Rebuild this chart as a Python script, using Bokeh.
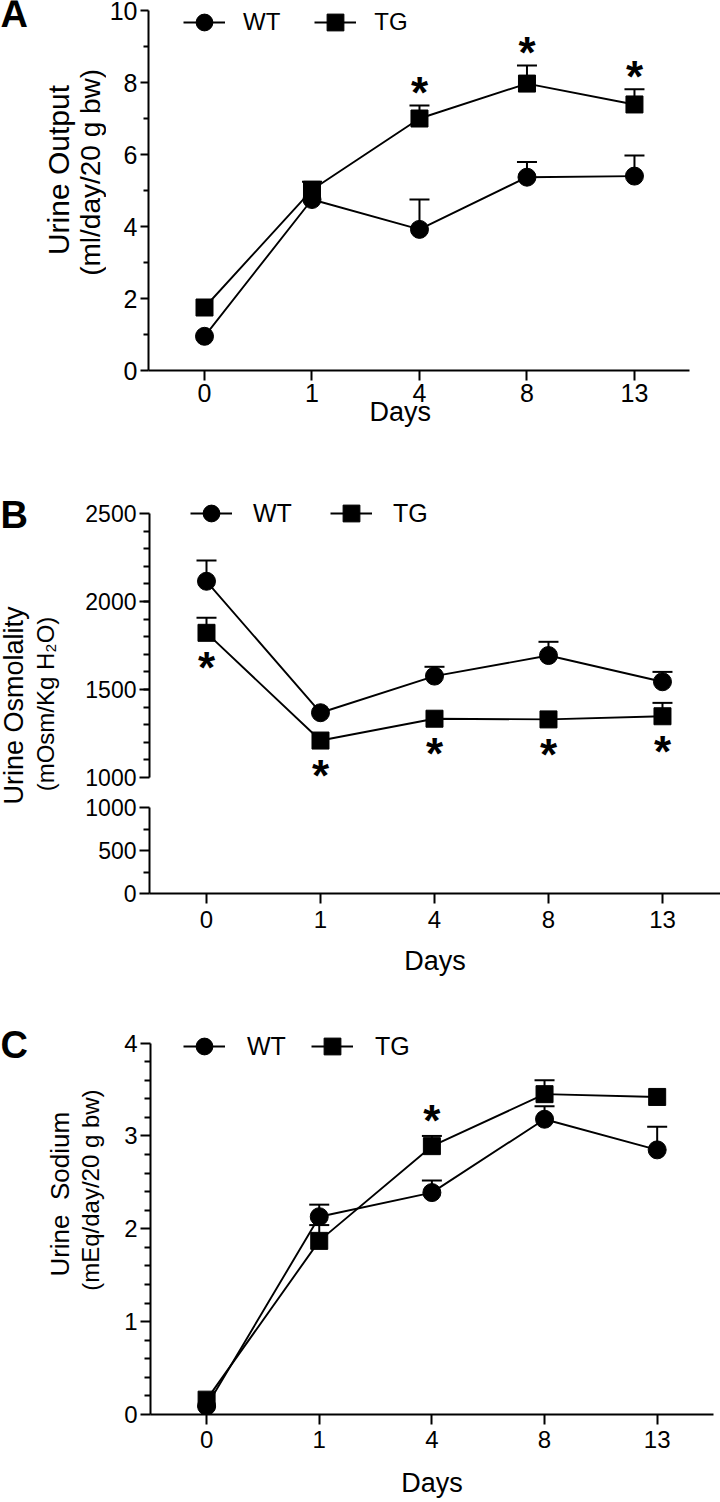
import math
from bokeh.plotting import figure
from bokeh.models import (Range1d, FixedTicker, Whisker, TeeHead, ColumnDataSource,
                          Legend, LegendItem, Label)
from bokeh.layouts import column, row
from bokeh.core.properties import value
from bokeh.embed import file_html
from bokeh.resources import INLINE

FONT = "Liberation Sans"
NB = "\u00a0"

# ---------------- data ----------------
days = ["0", "1", "4", "8", "13"]
xpos = list(range(len(days)))

wt_out = [0.95, 4.75, 3.92, 5.37, 5.40]
wt_out_sem = [0.0, 0.0, 0.83, 0.42, 0.57]
tg_out = [1.75, 5.02, 7.00, 7.97, 7.39]
tg_out_sem = [0.0, 0.22, 0.36, 0.50, 0.42]
sig_out = [False, False, True, True, True]

wt_osm = [2115, 1368, 1576, 1693, 1544]
wt_osm_sem = [118, 0, 53, 78, 56]
tg_osm = [1822, 1210, 1334, 1330, 1348]
tg_osm_sem = [85, 0, 0, 0, 76]
sig_osm = [True, True, True, True, True]

wt_na = [0.09, 2.13, 2.39, 3.18, 2.85]
wt_na_sem = [0.0, 0.13, 0.13, 0.14, 0.25]
tg_na = [0.16, 1.87, 2.89, 3.45, 3.42]
tg_na_sem = [0.0, 0.17, 0.11, 0.15, 0.0]
sig_na = [False, False, True, False, False]

PAGE_W = 720


def make_fig(w, h, xr, yr, mb_left, mb_right, mb_top, mb_bottom, show_x=True):
    p = figure(width=w, height=h, x_range=Range1d(*xr), y_range=Range1d(*yr),
               output_backend="svg", toolbar_location=None,
               min_border_left=mb_left, min_border_right=mb_right,
               min_border_top=mb_top, min_border_bottom=mb_bottom,
               x_axis_location="below" if show_x else None)
    p.outline_line_color = None
    p.grid.visible = False
    p.background_fill_color = "white"
    p.border_fill_color = "white"
    return p


def make_side(w, h):
    p = figure(width=w, height=h, x_range=Range1d(0, w), y_range=Range1d(h, 0),
               output_backend="svg", toolbar_location=None, min_border=0,
               min_border_left=0, min_border_right=0, min_border_top=0, min_border_bottom=0,
               x_axis_location=None, y_axis_location=None)
    p.outline_line_color = None
    p.grid.visible = False
    p.background_fill_color = "white"
    p.border_fill_color = "white"
    return p


def style_y(p, major, minor, bounds, fs="24px", tout=10, mout=6):
    ya = p.yaxis[0]
    ya.ticker = FixedTicker(ticks=major, minor_ticks=minor)
    ya.bounds = bounds
    ya.axis_line_width = 2
    ya.axis_line_color = "black"
    ya.major_tick_line_width = 2
    ya.minor_tick_line_width = 2
    ya.major_tick_line_color = "black"
    ya.minor_tick_line_color = "black"
    ya.major_tick_out = tout
    ya.major_tick_in = 0
    ya.minor_tick_out = mout
    ya.minor_tick_in = 0
    ya.major_label_text_font = FONT
    ya.major_label_text_font_size = fs
    ya.major_label_text_color = "black"
    ya.major_label_standoff = 3


def style_x(p, standoff, label_standoff, fs="24px", label="Days"):
    xa = p.xaxis[0]
    xa.ticker = FixedTicker(ticks=xpos)
    xa.major_label_overrides = {i: d for i, d in zip(xpos, days)}
    xa.axis_line_width = 2
    xa.axis_line_color = "black"
    xa.major_tick_line_width = 2
    xa.major_tick_line_color = "black"
    xa.major_tick_out = 10
    xa.major_tick_in = 0
    xa.minor_tick_out = 0
    xa.minor_tick_in = 0
    xa.major_label_text_font = FONT
    xa.major_label_text_font_size = fs
    xa.major_label_text_color = "black"
    xa.major_label_standoff = standoff
    xa.axis_label = label
    xa.axis_label_text_font = FONT
    xa.axis_label_text_font_size = "27px"
    xa.axis_label_text_font_style = "normal"
    xa.axis_label_text_color = "black"
    xa.axis_label_standoff = label_standoff


def add_series(p, wt, wt_sem, tg, tg_sem):
    for vals, sems in ((wt, wt_sem), (tg, tg_sem)):
        xs = [x for x, s in zip(xpos, sems) if s > 0]
        lo = [v for v, s in zip(vals, sems) if s > 0]
        hi = [v + s for v, s in zip(vals, sems) if s > 0]
        src = ColumnDataSource(dict(x=xs, lo=lo, hi=hi))
        wk = Whisker(base="x", lower="lo", upper="hi", source=src,
                     line_width=2, line_color="black",
                     upper_head=TeeHead(size=20, line_width=2, line_color="black"),
                     lower_head=None, level="underlay")
        p.add_layout(wk)
    lw = p.line(xpos, wt, line_width=1.9, line_color="black")
    sw = p.scatter(xpos, wt, marker="circle", size=18, fill_color="black", line_color="black")
    lt = p.line(xpos, tg, line_width=1.9, line_color="black")
    st = p.scatter(xpos, tg, marker="square", size=17, fill_color="black", line_color="black")
    return (lw, sw), (lt, st)


def add_legend(p, wt_r, tg_r, loc, standoff, spacing, fs="24px"):
    leg = Legend(items=[LegendItem(label="WT", renderers=list(wt_r)),
                        LegendItem(label="TG", renderers=list(tg_r))],
                 orientation="horizontal", location=loc,
                 glyph_width=42, glyph_height=46, label_standoff=standoff,
                 spacing=spacing, padding=0, margin=0,
                 border_line_alpha=0, background_fill_alpha=0,
                 label_text_font=FONT, label_text_font_size=fs,
                 label_text_color="black")
    p.add_layout(leg)


def add_stars(p, vals, sems, sig, above, offset):
    xs = [x for x, s in zip(xpos, sig) if s]
    ys = [v + (e if above else 0) for v, e, s in zip(vals, sems, sig) if s]
    p.text(x=xs, y=ys, text=["*"] * len(xs), text_font=value(FONT),
           text_font_style="bold", text_font_size="44px", text_align="center",
           text_baseline="middle", y_offset=offset, text_color="black")


def add_text(p, x, y, text, fs, angle=0.0, bold=False, align="center"):
    p.add_layout(Label(x=x, y=y, text=text, angle=angle,
                       text_align=align, text_baseline="middle",
                       text_font=FONT, text_font_size=fs,
                       text_font_style="bold" if bold else "normal",
                       text_color="black"))


UP = math.pi / 2

# ---------------- panel A ----------------
HA = 478
sA = make_side(106, HA)
add_text(sA, 0, 17, "A", "38px", bold=True, align="left")
add_text(sA, 58, 219, "Urine Output", "30px", angle=UP)
add_text(sA, 89.5, 222, "(ml/day/20 g bw)", "28px", angle=UP)

pA = make_fig(PAGE_W - 106, HA, (-0.521, 4.512), (0, 10 + 10 / 36.0), 42, 31, 0, HA - 370)
style_y(pA, [0, 2, 4, 6, 8, 10], [1, 3, 5, 7, 9], (0, 10), fs="25px", tout=8, mout=5)
style_x(pA, 3, -8, fs="25px", label="Days" + NB * 5)
wtA, tgA = add_series(pA, wt_out, wt_out_sem, tg_out, tg_out_sem)
add_legend(pA, wtA, tgA, (35, 325), 18, 34)
add_stars(pA, tg_out, tg_out_sem, sig_out, True, -13)

# ---------------- panel B (broken axis) ----------------
HBu, HBl = 319, 203
sB = make_side(72, HBu + HBl)
add_text(sB, 0, 36, "B", "38px", bold=True, align="left")
add_text(sB, 13, 227, "Urine Osmolality", "27px", angle=UP)
add_text(sB, 44.8, 225.5, "(mOsm/Kg H\u2082O)", "24px", angle=UP)

upp = 1500 / 264.0  # units per pixel in upper segment
pBu = make_fig(PAGE_W - 72, HBu, (-0.5, 4.509), (1000 - 20 * upp, 2500 + 35 * upp),
               77, 0, 0, 0, show_x=False)
style_y(pBu, [1000, 1500, 2000, 2500], list(range(1100, 2500, 100)), (1000, 2500), fs="23px")
wtB, tgB = add_series(pBu, wt_osm, wt_osm_sem, tg_osm, tg_osm_sem)
add_legend(pBu, wtB, tgB, (41, 261), 21, 38, fs="25px")
add_stars(pBu, tg_osm, tg_osm_sem, sig_osm, False, 35)

pBl = make_fig(PAGE_W - 72, HBl, (-0.5, 4.509), (0, 1000), 77, 0, 10, HBl - 96)
style_y(pBl, [0, 500, 1000], [250, 750], (0, 1000), fs="23px")
style_x(pBl, 7, 15)

# ---------------- panel C ----------------
HC = 500
sC = make_side(108, HC)
add_text(sC, 0, 54, "C", "38px", bold=True, align="left")
add_text(sC, 59.7, 234, "Urine " + NB + "Sodium", "26px", angle=UP)
add_text(sC, 89.8, 229, "(mEq/day/20 g bw)", "24px", angle=UP)

pC = make_fig(PAGE_W - 108, HC, (-0.498, 4.5), (0, 4 + 43 / 93.75), 42, 7, 0, HC - 418)
style_y(pC, [0, 1, 2, 3, 4], [0.2, 0.4, 0.6, 0.8, 1.2, 1.4, 1.6, 1.8, 2.2, 2.4, 2.6, 2.8,
                              3.2, 3.4, 3.6, 3.8], (0, 4))
style_x(pC, 6, 17)
wtC, tgC = add_series(pC, wt_na, wt_na_sem, tg_na, tg_na_sem)
add_legend(pC, wtC, tgC, (33, 345), 22, 25, fs="25px")
add_stars(pC, tg_na, tg_na_sem, sig_na, True, -15)

layout = column(
    row(sA, pA, spacing=0),
    row(sB, column(pBu, pBl, spacing=0), spacing=0),
    row(sC, pC, spacing=0),
    spacing=0,
)
open("out.html", "w").write(file_html(layout, INLINE))
